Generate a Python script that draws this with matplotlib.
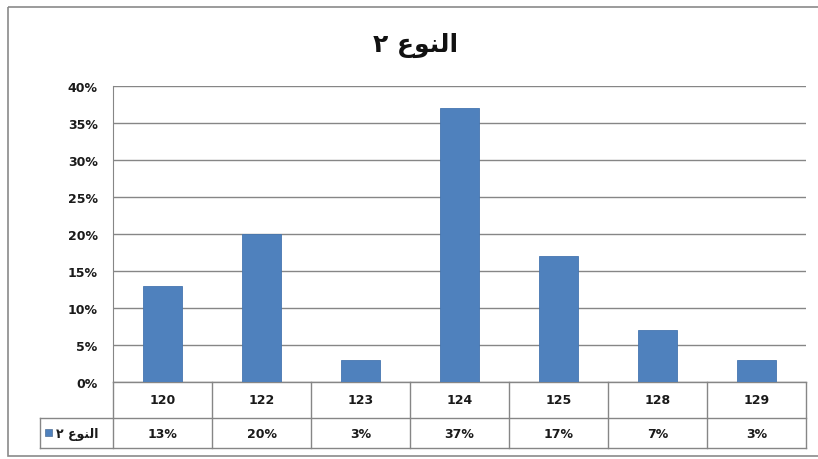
import matplotlib
matplotlib.use('Agg')
import matplotlib.pyplot as plt
from matplotlib.transforms import blended_transform_factory
from matplotlib.patches import Rectangle
from matplotlib.lines import Line2D

# ---- data ----
categories = ['120', '122', '123', '124', '125', '128', '129']
values = [13, 20, 3, 37, 17, 7, 3]
# "النوع ٢" pre-shaped in visual (left-to-right) order
series_label = '\u0662 \uFEC9\uFEEE\uFEE8\uFEDF\uFE8D'
title_text = series_label
yticks = [0, 5, 10, 15, 20, 25, 30, 35, 40]

plt.rcParams['font.family'] = ['DejaVu Sans', 'Noto Sans']

W, H = 818, 460
fig = plt.figure(figsize=(W / 100, H / 100), dpi=100)
fig.patch.set_facecolor('white')

# overlay axes in pixel coordinates
ov = fig.add_axes([0, 0, 1, 1], zorder=0)
ov.set_xlim(0, W)
ov.set_ylim(H, 0)
ov.axis('off')

# main plot axes
L, T, R, B = 113, 87, 806, 383
ax = fig.add_axes([L / W, 1 - B / H, (R - L) / W, (B - T) / H], zorder=1)
ax.patch.set_alpha(0)
xs = list(range(len(categories)))
ax.bar(xs, values, width=0.4, color='#4f81bd', edgecolor='#4676b0',
       linewidth=0.6, zorder=3)
ax.set_xlim(-0.5, len(categories) - 0.5)
ax.set_ylim(0, 40)
ax.set_yticks(yticks)
ax.set_yticklabels([f'{v}%' for v in yticks], fontsize=9, fontweight='bold',
                   color='#1a1a1a')
ax.tick_params(axis='y', length=0, pad=11)
ax.set_xticks([])
ax.yaxis.grid(True, color='#868686', linewidth=1)
ax.set_axisbelow(True)
for s in ['top', 'right']:
    ax.spines[s].set_visible(False)
ax.spines['left'].set_color('#868686')
ax.spines['bottom'].set_color('#868686')
ax.spines['bottom'].set_linewidth(1)

# data table (x in data coords of ax, y in pixels)
tr = blended_transform_factory(ax.transData, ov.transData)
line_kw = dict(color='#868686', linewidth=1)
n = len(categories)
r0, r1, r2 = 383, 419, 449
for i in range(n + 1):
    ov.add_line(Line2D([i - 0.5, i - 0.5], [r0, r2], transform=tr, **line_kw))
x_end = ax.transData.transform((n - 0.5, 0))[0]
x_end_px = ov.transData.inverted().transform((x_end, 0))[0]
ov.add_line(Line2D([40, x_end_px], [r1, r1], **line_kw))
ov.add_line(Line2D([40, x_end_px], [r2, r2], **line_kw))
ov.add_line(Line2D([40, 40], [r1, r2], **line_kw))

for i, (c, v) in enumerate(zip(categories, values)):
    ov.text(i, (r0 + r1) / 2, c, transform=tr, ha='center', va='center',
            fontsize=9, fontweight='bold', color='#1a1a1a')
    ov.text(i, (r1 + r2) / 2 + 1, f'{v}%', transform=tr, ha='center',
            va='center', fontsize=9, fontweight='bold', color='#1a1a1a')

# legend key in table
ov.add_patch(Rectangle((45, 430), 7, 7, facecolor='#4f81bd', edgecolor='#4f6f96',
                       linewidth=0.5))
ov.text(56, (r1 + r2) / 2 + 1, series_label, ha='left', va='center',
        fontsize=9, fontweight='bold', color='#1a1a1a')

# title
ov.text(416, 45, title_text, ha='center', va='center', fontsize=18,
        fontweight='bold', color='#111111')

# chart border
ov.add_patch(Rectangle((8, 8), W + 5, 449, facecolor='none', edgecolor='#8a8a8a',
                       linewidth=1.2))

fig.savefig('out.png', dpi=100, facecolor='white')
